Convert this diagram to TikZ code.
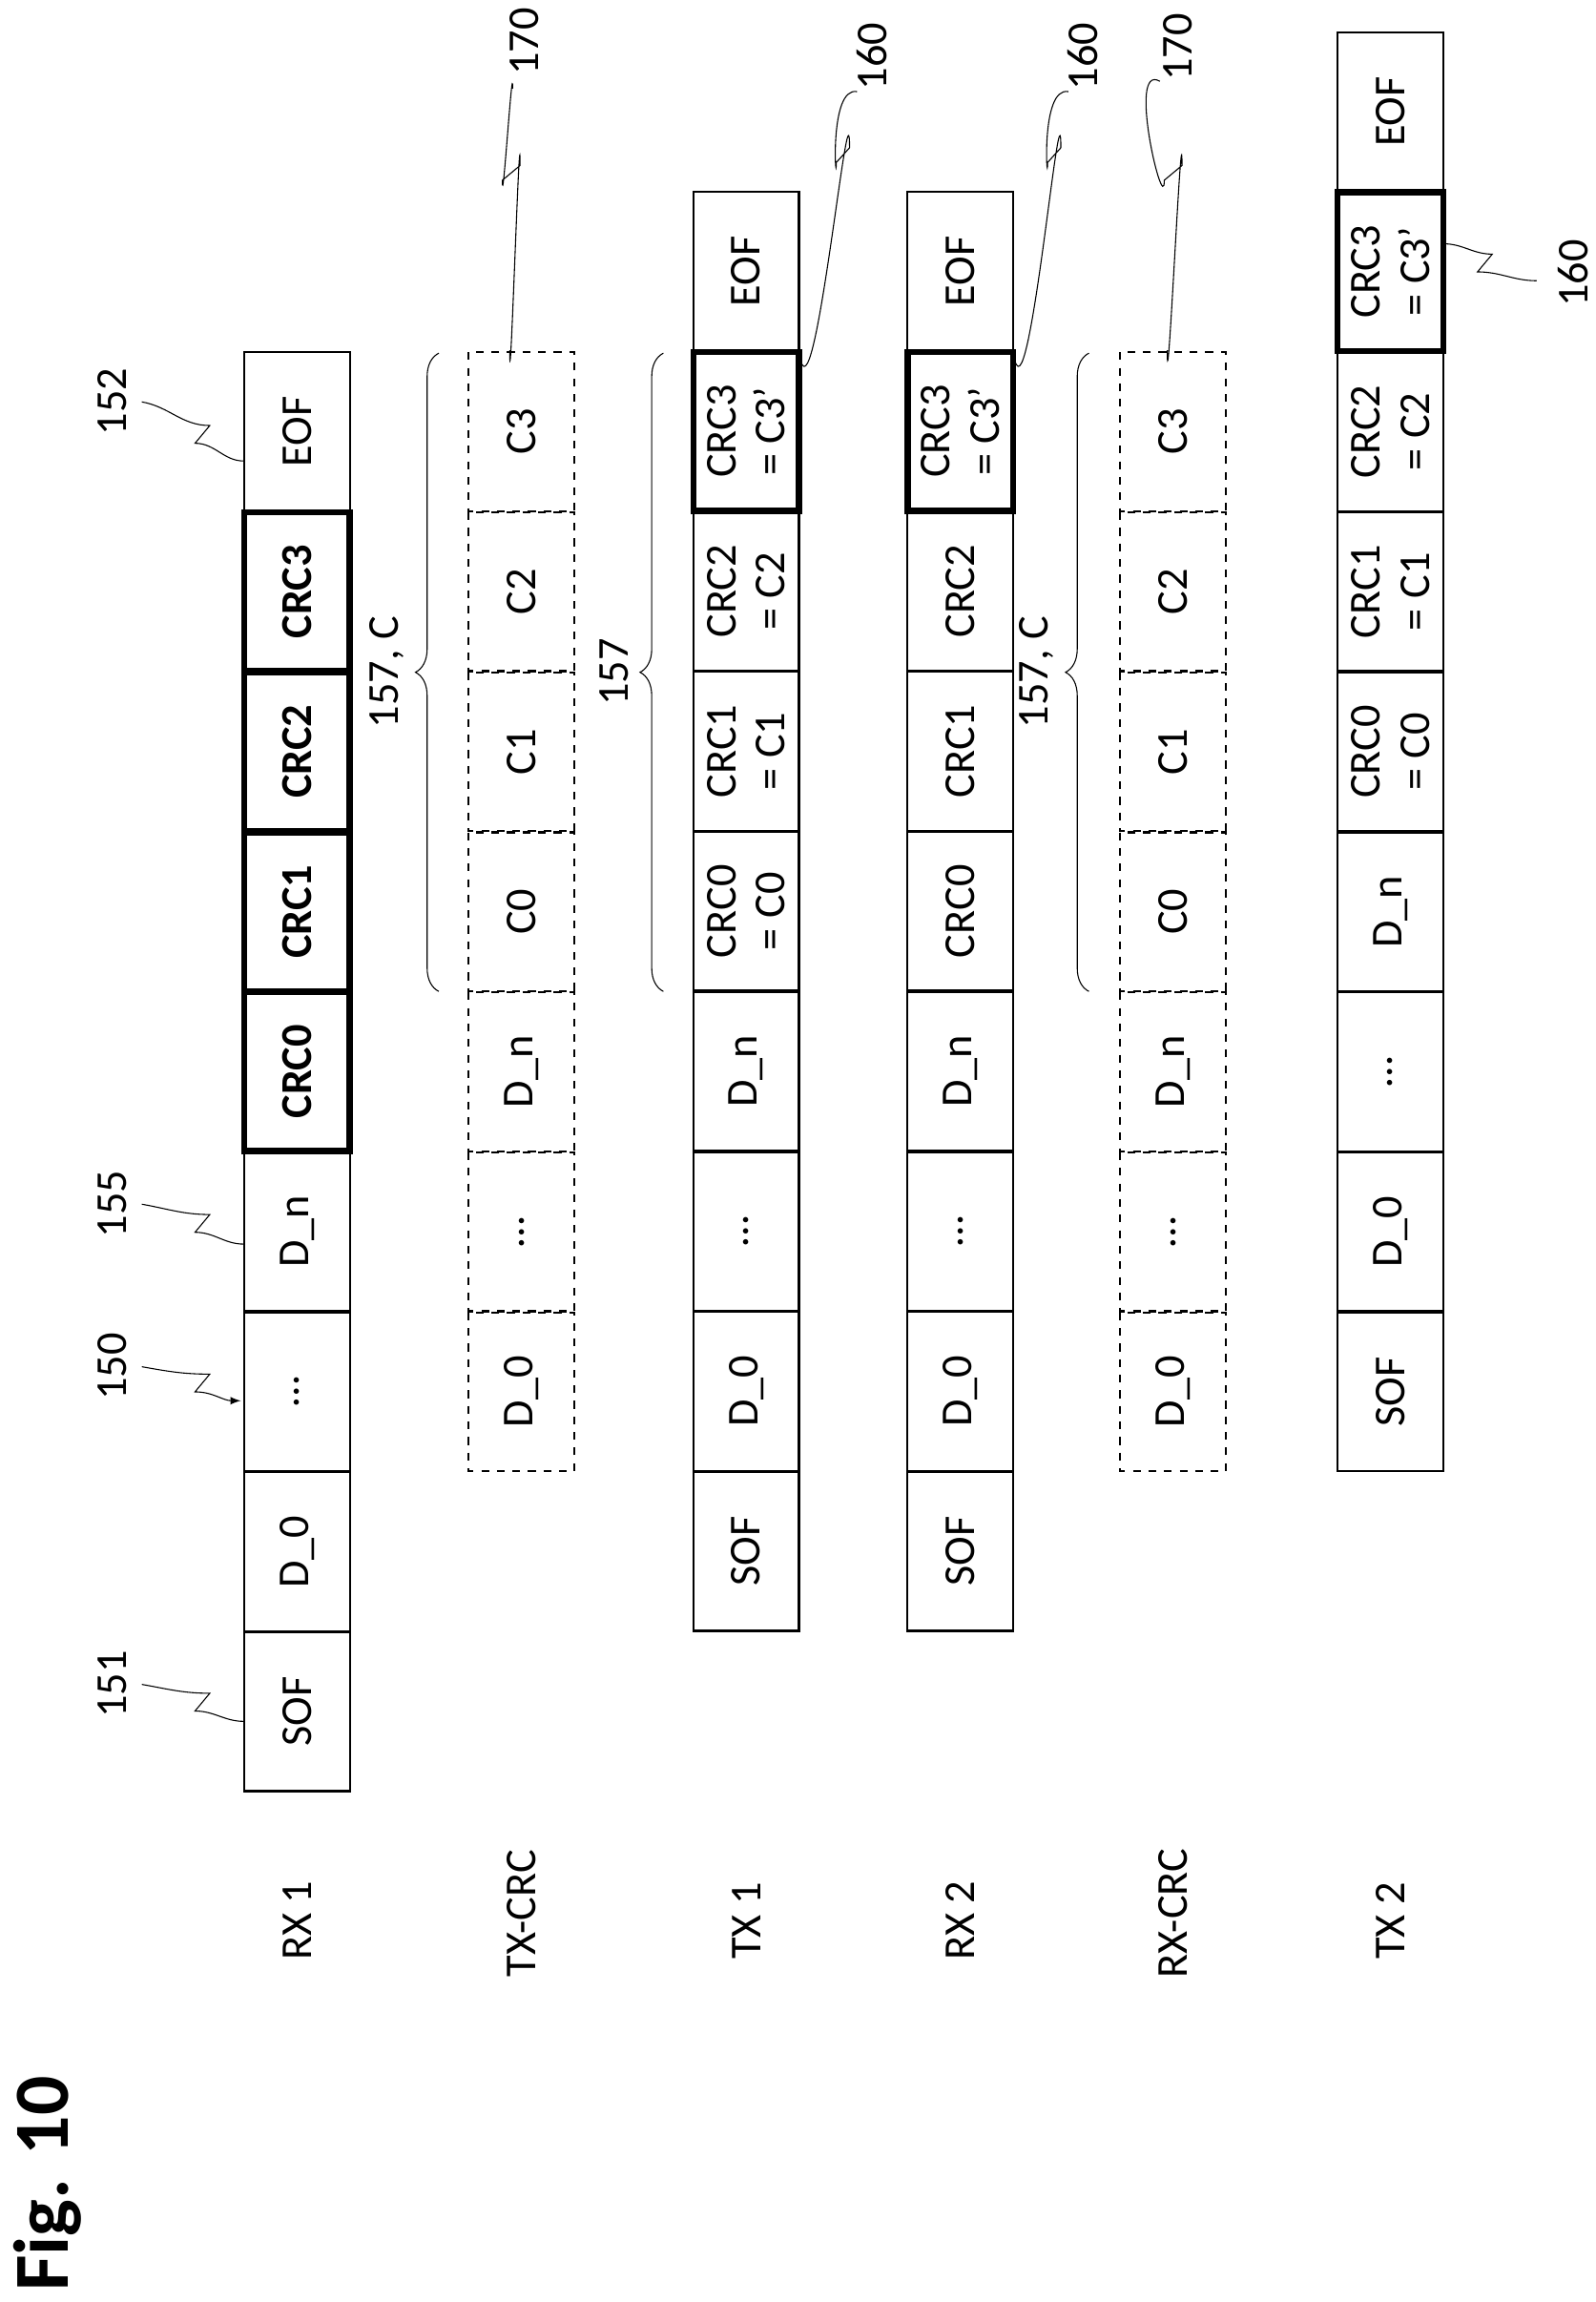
\documentclass[tikz,border=0pt]{standalone}
\usepackage{fontspec}
\setmainfont{Carlito}
\usetikzlibrary{decorations.pathreplacing}
\tikzset{
  cell/.style = {draw, thick, rotate=90, minimum width=2.15cm, minimum height=1.43cm, inner sep=0pt, align=center, font=\fontsize{17}{19}\selectfont},
  bcell/.style = {cell, line width=2.4pt, font=\fontsize{17}{19}\selectfont\bfseries},
  tcell/.style = {cell, line width=2.4pt},
  dcell/.style = {cell, dashed},
  rowlab/.style = {rotate=90, font=\fontsize{17}{19}\selectfont},
  reflab/.style = {rotate=90, font=\fontsize{17}{19}\selectfont},
  squig/.style = {thin},
  brace/.style = {decorate, decoration={brace, amplitude=9pt}, thin}
}
\begin{document}
\begin{tikzpicture}[x=0.02cm, y=-0.02cm]
  \useasboundingbox (0,0) rectangle (1080,1558);

  % Title
  \node[rotate=90, font=\fontsize{30}{32}\selectfont\bfseries] (fig) at (32,1478) {Fig. 10};

  % Row labels
  \node[rowlab] (l-rx1) at (201,1300) {RX 1};
  \node[rowlab] (l-txcrc) at (353,1295) {TX-CRC};
  \node[rowlab] (l-tx1) at (505,1300) {TX 1};
  \node[rowlab] (l-rx2) at (650,1300) {RX 2};
  \node[rowlab] (l-rxcrc) at (794,1295) {RX-CRC};
  \node[rowlab] (l-tx2) at (941,1300) {TX 2};

  % RX 1
  \foreach \t/\s [count=\i] in {SOF/cell, D\_0/cell, \ldots/cell, D\_n/cell, CRC0/bcell, CRC1/bcell, CRC2/bcell, CRC3/bcell, EOF/cell}
    \node[\s] (rx1-\i) at (201,1158.5-108.3*\i+108.3) {\t};

  % TX-CRC
  \foreach \t [count=\i] in {D\_0, \ldots, D\_n, C0, C1, C2, C3}
    \node[dcell] (txc-\i) at (353,942-108.3*\i+108.3) {\t};

  % TX 1
  \foreach \t/\s [count=\i] in {SOF/cell, D\_0/cell, \ldots/cell, D\_n/cell, {CRC0\\= C0}/cell, {CRC1\\= C1}/cell, {CRC2\\= C2}/cell, {CRC3\\= C3’}/tcell, EOF/cell}
    \node[\s] (tx1-\i) at (505,1050-108.3*\i+108.3) {\t};

  % RX 2
  \foreach \t/\s [count=\i] in {SOF/cell, D\_0/cell, \ldots/cell, D\_n/cell, CRC0/cell, CRC1/cell, CRC2/cell, {CRC3\\= C3’}/tcell, EOF/cell}
    \node[\s] (rx2-\i) at (650,1050-108.3*\i+108.3) {\t};

  % RX-CRC
  \foreach \t [count=\i] in {D\_0, \ldots, D\_n, C0, C1, C2, C3}
    \node[dcell] (rxc-\i) at (794,942-108.3*\i+108.3) {\t};

  % TX 2
  \foreach \t/\s [count=\i] in {SOF/cell, D\_0/cell, \ldots/cell, D\_n/cell, {CRC0\\= C0}/cell, {CRC1\\= C1}/cell, {CRC2\\= C2}/cell, {CRC3\\= C3’}/tcell, EOF/cell}
    \node[\s] (tx2-\i) at (941,942-108.3*\i+108.3) {\t};

  % Braces
  \draw[brace] (297,671) -- (297,239) node[midway, left=10pt, rotate=90, anchor=south, font=\fontsize{17}{19}\selectfont] (b1) {157, C};
  \draw[brace] (449,671) -- (449,239) node[midway, left=10pt, rotate=90, anchor=south, font=\fontsize{17}{19}\selectfont] (b2) {157};
  \draw[brace] (737,671) -- (737,239) node[midway, left=10pt, rotate=90, anchor=south, font=\fontsize{17}{19}\selectfont] (b3) {157, C};

  % Reference numerals
  \node[reflab] (r151) at (76,1140) {151};
  \node[reflab] (r150) at (76,925) {150};
  \node[reflab] (r155) at (76,815) {155};
  \node[reflab] (r152) at (76,272) {152};
  \node[reflab] (r170a) at (355,28) {170};
  \node[reflab] (r160a) at (590,38) {160};
  \node[reflab] (r160b) at (733,38) {160};
  \node[reflab] (r170b) at (797,32) {170};
  \node[reflab] (r160c) at (1065,185) {160};

  \draw[squig] (165,1165) to[out=180,in=0] (132,1158) -- (142,1146) to[out=180,in=-10] (96,1140);
  \draw[squig, -latex] (96,925) to[out=-10,in=180] (142,930) -- (132,942) to[out=0,in=180] (163,948);
  \draw[squig] (165,842) to[out=180,in=0] (132,834) -- (142,822) to[out=180,in=-10] (96,815);
  \draw[squig] (165,312) to[out=180,in=0] (132,300) -- (142,288) to[out=180,in=-10] (96,272);
  \draw[squig] (345,237) to[out=-90,in=90] (352,112) -- (340,122) to[out=-90,in=90] (347,60);
  \draw[squig] (541,240) to[out=-80,in=90] (575,100) -- (566,110) to[out=-90,in=170] (580,62);
  \draw[squig] (686,240) to[out=-80,in=90] (718,100) -- (709,110) to[out=-90,in=170] (723,62);
  \draw[squig] (790,237) to[out=-90,in=90] (800,112) -- (788,122) to[out=-90,in=150] (785,55);
  \draw[squig] (977,165) to[out=0,in=180] (1010,172) -- (1000,184) to[out=0,in=180] (1040,190);
\end{tikzpicture}
\end{document}
